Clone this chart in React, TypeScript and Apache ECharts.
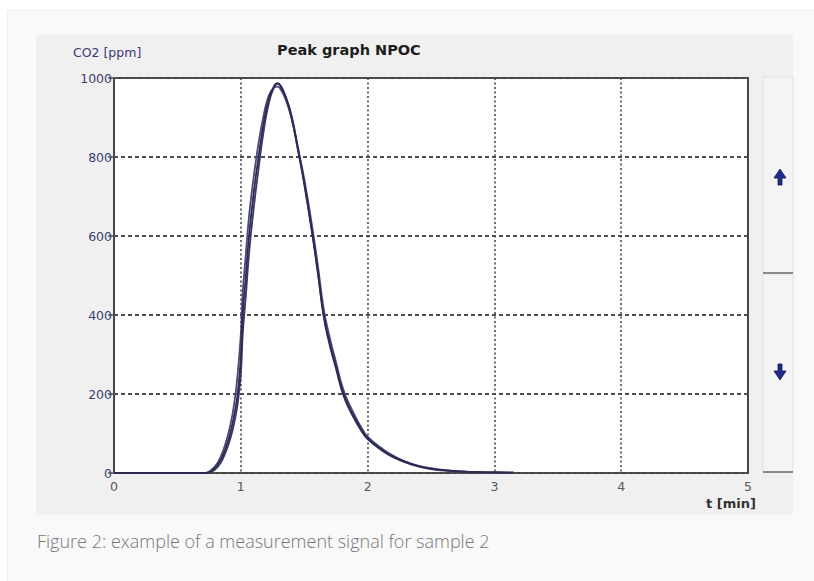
import React, { useEffect, useRef } from "react";
import * as echarts from "echarts";

const times = [0, 0.72, 0.76, 0.8, 0.84, 0.88, 0.92, 0.95, 0.975, 1.0, 1.015, 1.04, 1.065, 1.1, 1.14, 1.18, 1.22, 1.26, 1.29, 1.32, 1.36, 1.4, 1.45, 1.5, 1.567, 1.61, 1.654, 1.7, 1.75, 1.81, 1.88, 1.96, 2.0, 2.1, 2.2, 2.35, 2.5, 2.65, 2.8, 3.0, 3.15];
const signalA = [0, 0, 4, 14, 32, 62, 105, 150, 200, 290, 400, 500, 600, 705, 800, 885, 945, 978, 987, 975, 948, 905, 825, 735, 600, 505, 400, 330, 270, 200, 150, 105, 88, 62, 42, 22, 11, 6, 3, 1.5, 1];
const signalB = [0, 0, 6, 18, 40, 75, 125, 180, 250, 350, 455, 555, 650, 745, 835, 905, 955, 975, 978, 968, 940, 898, 822, 745, 615, 520, 415, 345, 282, 210, 158, 110, 92, 65, 44, 23, 12, 6, 3, 1.5, 1];
const signalC = [0, 0, 2, 10, 25, 52, 90, 130, 175, 250, 350, 450, 555, 665, 770, 865, 935, 975, 985, 978, 945, 900, 818, 732, 598, 500, 395, 325, 265, 196, 146, 102, 86, 60, 40, 21, 10, 5, 3, 1.5, 1];

const xTicks = { min: 0, max: 5, interval: 1 };
const yTicks = { min: 0, max: 1000, interval: 200 };

const titleText = "Peak graph NPOC";
const yName = "CO2 [ppm]";
const xName = "t [min]";
const caption = "Figure 2: example of a measurement signal for sample 2";

const labelFont = "'DejaVu Sans', sans-serif";

function pairs(vals: number[]) {
  return times.map((t, i) => [t, vals[i]]);
}

export default function App() {
  const ref = useRef<HTMLDivElement>(null);
  useEffect(() => {
    if (!ref.current) return;
    const chart = echarts.init(ref.current, undefined, { renderer: "svg" });
    const lineSeries = (name: string, vals: number[], color: string) => ({
      name,
      type: "line",
      data: pairs(vals),
      showSymbol: false,
      smooth: true,
      lineStyle: { color, width: 1.8 },
      z: 3,
    });
    chart.setOption({
      animation: false,
      backgroundColor: "transparent",
      title: {
        text: titleText,
        left: 277,
        top: 42,
        padding: 0,
        textStyle: { fontFamily: "'DejaVu Sans', sans-serif", fontWeight: "bold", fontSize: 14.5, color: "#1e1e1e" },
      },
      grid: {
        left: 114,
        right: 66,
        top: 78,
        bottom: 108,
        show: true,
        backgroundColor: "#ffffff",
        borderColor: "#444444",
        borderWidth: 2,
      },
      xAxis: {
        type: "value",
        min: xTicks.min,
        max: xTicks.max,
        interval: xTicks.interval,
        axisLine: { show: false },
        axisTick: { show: false },
        axisLabel: { fontSize: 12.5, color: "#56565c", margin: 7, fontFamily: labelFont, formatter: (v: number) => String(v) },
        splitLine: { show: true, lineStyle: { color: "#4a4a4a", width: 1.6, type: [2, 2.5] } },
      },
      yAxis: {
        type: "value",
        min: yTicks.min,
        max: yTicks.max,
        interval: yTicks.interval,
        axisLine: { show: false },
        axisTick: { show: true, length: 6, lineStyle: { color: "#555", width: 1.5 } },
        axisLabel: { fontSize: 12.5, color: "#3e3e6e", margin: 2, fontFamily: labelFont, formatter: (v: number) => String(v) },
        splitLine: { show: true, lineStyle: { color: "#4e4e4e", width: 1.8, type: [4, 3] } },
      },
      series: [
        lineSeries("trace B", signalB, "#4a4a78"),
        lineSeries("trace C", signalC, "#3a3a66"),
        lineSeries("trace A", signalA, "#2a2a55"),
      ],
      graphic: [
        { type: "text", x: 73, y: 52, style: { text: yName, fill: "#3a3a7a", font: `12.5px ${labelFont}`, verticalAlign: "middle" } },
        { type: "text", x: 756, y: 503, style: { text: xName, fill: "#333", font: "bold 13px 'DejaVu Sans', sans-serif", align: "right", verticalAlign: "middle" } },
        { type: "rect", shape: { x: 763, y: 77, width: 30, height: 196 }, style: { fill: "#f4f4f4", stroke: "#e2e2e2", lineWidth: 1 } },
        { type: "rect", shape: { x: 763, y: 274, width: 30, height: 198 }, style: { fill: "#f4f4f4", stroke: "#e2e2e2", lineWidth: 1 } },
        { type: "line", shape: { x1: 763, y1: 273, x2: 793, y2: 273 }, style: { stroke: "#8a8a8a", lineWidth: 2 } },
        { type: "line", shape: { x1: 763, y1: 472, x2: 793, y2: 472 }, style: { stroke: "#8a8a8a", lineWidth: 2 } },
        { type: "polygon", shape: { points: [[780, 169], [786, 178], [782, 178], [782, 185], [778, 185], [778, 178], [774, 178]] }, style: { fill: "#1f2b8f", stroke: "#141a50", lineWidth: 0.8 } },
        { type: "polygon", shape: { points: [[780, 380], [786, 371], [782, 371], [782, 364], [778, 364], [778, 371], [774, 371]] }, style: { fill: "#1f2b8f", stroke: "#141a50", lineWidth: 0.8 } },
        { type: "text", x: 37, y: 541, style: { text: caption, fill: "#777777", font: "300 18px 'Open Sans', sans-serif", verticalAlign: "middle" } },
      ],
    });
    return () => chart.dispose();
  }, []);
  return (
    <div style={{ position: "fixed", left: 0, top: 0, width: 814, height: 581, background: "#ffffff" }}>
      <div style={{ position: "absolute", left: 7, top: 10, width: 807, height: 571, background: "#f9f9f9", borderLeft: "1px solid #eeeeee", borderTop: "1px solid #eeeeee" }} />
      <div style={{ position: "absolute", left: 36, top: 35, width: 757, height: 480, background: "#f0f0f0" }} />
      <div ref={ref} style={{ position: "absolute", left: 0, top: 0, width: 814, height: 581 }} />
    </div>
  );
}
